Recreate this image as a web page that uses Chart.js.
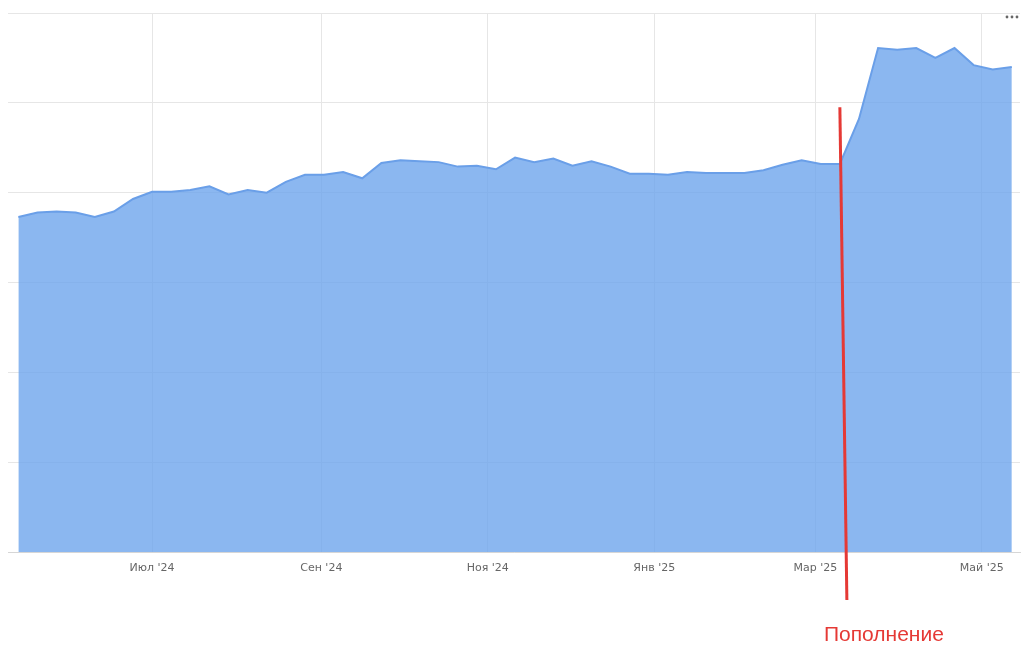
<!DOCTYPE html>
<html>
<head>
<meta charset="utf-8">
<script src="https://cdn.jsdelivr.net/npm/chart.js@4"></script>
<style>
  html, body { margin: 0; padding: 0; background: #fff; }
  #wrap { width: 1024px; height: 651px; }
</style>
</head>
<body>
<div id="wrap"><canvas id="myChart" width="1024" height="651"></canvas></div>
<script>
// weekly points (Mondays)
const weekDates = [
    '2024-05-13', '2024-05-20', '2024-05-27', '2024-06-03', '2024-06-10', '2024-06-17', '2024-06-24',
    '2024-07-01', '2024-07-08', '2024-07-15', '2024-07-22', '2024-07-29', '2024-08-05', '2024-08-12',
    '2024-08-19', '2024-08-26', '2024-09-02', '2024-09-09', '2024-09-16', '2024-09-23', '2024-09-30',
    '2024-10-07', '2024-10-14', '2024-10-21', '2024-10-28', '2024-11-04', '2024-11-11', '2024-11-18',
    '2024-11-25', '2024-12-02', '2024-12-09', '2024-12-16', '2024-12-23', '2024-12-30', '2025-01-06',
    '2025-01-13', '2025-01-20', '2025-01-27', '2025-02-03', '2025-02-10', '2025-02-17', '2025-02-24',
    '2025-03-03', '2025-03-10', '2025-03-17', '2025-03-24', '2025-03-31', '2025-04-07', '2025-04-14',
    '2025-04-21', '2025-04-28', '2025-05-05', '2025-05-12'
];
const balance = [
    3.73, 3.78, 3.79, 3.78, 3.73, 3.79, 3.93,
    4.01, 4.01, 4.03, 4.07, 3.98, 4.03, 4.00,
    4.12, 4.20, 4.20, 4.23, 4.16, 4.33, 4.36,
    4.35, 4.34, 4.29, 4.30, 4.26, 4.39, 4.34,
    4.38, 4.30, 4.35, 4.29, 4.21, 4.21, 4.20,
    4.23, 4.22, 4.22, 4.22, 4.25, 4.31, 4.36,
    4.32, 4.32, 4.82, 5.61, 5.59, 5.61, 5.50,
    5.61, 5.42, 5.37, 5.40
];
// x axis
const tickDates = ['2024-07-01', '2024-09-01', '2024-11-01', '2025-01-01', '2025-03-01', '2025-05-01'];
const tickLabels = ["Июл '24", "Сен '24", "Ноя '24", "Янв '25", "Мар '25", "Май '25"];
// annotation
const noteDate = '2025-03-10';
const noteTop = 4.95;
const noteText = 'Пополнение';

function dayNum(s) {
    return Date.UTC(+s.slice(0, 4), +s.slice(5, 7) - 1, +s.slice(8, 10)) / 86400000;
}

const points = weekDates.map((d, i) => ({ x: dayNum(d), y: balance[i] }));
const tickDays = tickDates.map(dayNum);

// red marker line + caption, plus the little menu dots
const notePlugin = {
    id: 'note',
    afterDraw(chart) {
        const c = chart.ctx;
        const xs = chart.scales.x;
        const ys = chart.scales.y;
        const x0 = xs.getPixelForValue(dayNum(noteDate));
        const y0 = ys.getPixelForValue(noteTop);
        c.save();
        c.strokeStyle = '#e53935';
        c.lineWidth = 3;
        c.beginPath();
        c.moveTo(x0, y0);
        c.lineTo(x0 + 7, chart.chartArea.bottom + 48);
        c.stroke();
        c.fillStyle = '#e53935';
        c.font = '21px "Liberation Sans", Arial, sans-serif';
        c.textAlign = 'center';
        c.textBaseline = 'alphabetic';
        c.fillText(noteText, x0 + 44, chart.chartArea.bottom + 89);
        // menu dots
        c.fillStyle = '#666';
        for (let k = 0; k < 3; k++) {
            c.beginPath();
            c.arc(1007 + k * 5, 17, 1.4, 0, Math.PI * 2);
            c.fill();
        }
        c.restore();
    }
};

const ctx = document.getElementById('myChart').getContext('2d');
new Chart(ctx, {
    type: 'line',
    data: {
        datasets: [{
            data: points,
            borderColor: '#6a9fe8',
            borderWidth: 2,
            backgroundColor: 'rgba(110, 165, 236, 0.8)',
            fill: 'origin',
            pointRadius: 0,
            tension: 0
        }]
    },
    options: {
        responsive: false,
        animation: false,
        layout: { padding: { left: 8, right: 4, top: 13, bottom: 0 } },
        plugins: {
            legend: { display: false },
            tooltip: { enabled: false }
        },
        scales: {
            x: {
                type: 'linear',
                min: dayNum(weekDates[0]) - 3.8,
                max: dayNum(weekDates[weekDates.length - 1]) + 3,
                afterBuildTicks: function (scale) {
                    scale.ticks = tickDays.map(v => ({ value: v }));
                },
                afterFit: function (scale) {
                    scale.height = 99;
                },
                grid: { color: '#e6e6e6', drawTicks: false },
                border: { color: '#d6d6d6' },
                ticks: {
                    padding: 10,
                    maxRotation: 0,
                    autoSkip: false,
                    color: '#666',
                    font: { family: 'DejaVu Sans', size: 11 },
                    callback: function (value) {
                        const i = tickDays.indexOf(value);
                        return i >= 0 ? tickLabels[i] : '';
                    }
                }
            },
            y: {
                min: 0,
                max: 6,
                afterFit: function (scale) {
                    scale.width = 0;
                },
                grid: { color: '#e6e6e6', drawTicks: false },
                border: { display: false },
                ticks: { display: false, stepSize: 1 }
            }
        }
    },
    plugins: [notePlugin]
});
</script>
</body>
</html>
